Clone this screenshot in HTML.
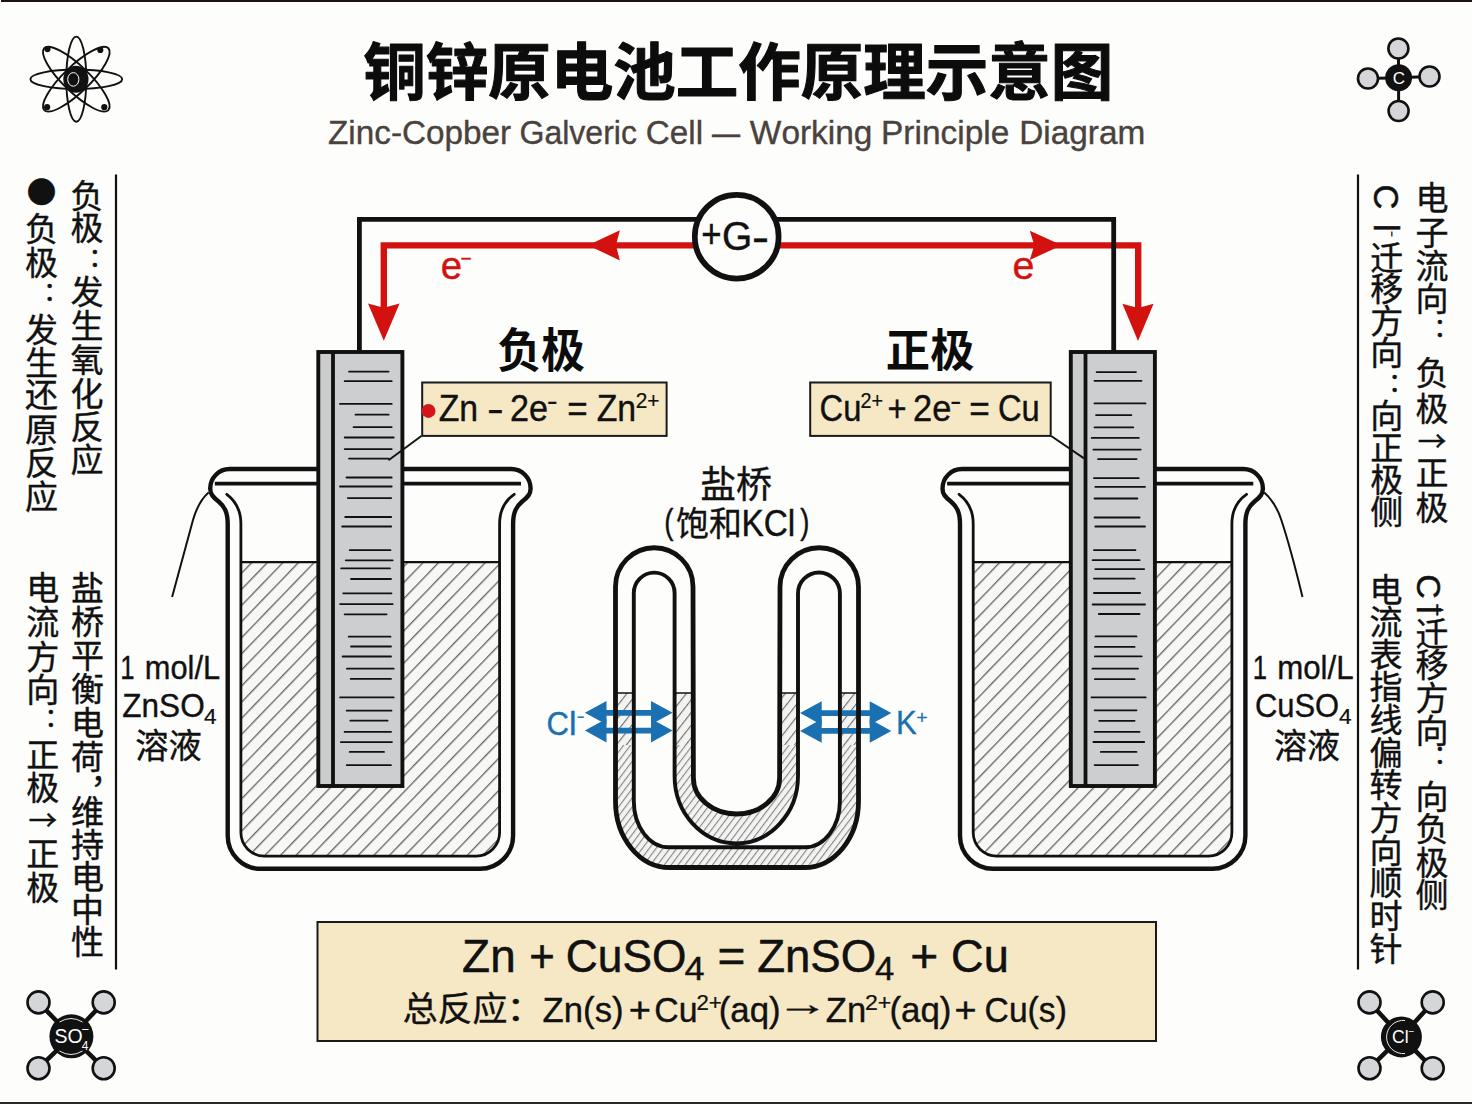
<!DOCTYPE html>
<html lang="zh-CN"><head><meta charset="utf-8"><title>铜锌原电池工作原理示意图</title>
<style>html,body{margin:0;padding:0;background:#fdfdfc;}body{width:1472px;height:1104px;overflow:hidden;}svg{display:block;}text{font-family:"Liberation Sans", "Noto Sans CJK SC", sans-serif;fill:#111;}.b{font-weight:700;}.v{font-size:33px;text-anchor:middle;stroke:#111;stroke-width:0.4px;}</style></head><body>
<svg width="1472" height="1104" viewBox="0 0 1472 1104">
<defs>
<pattern id="hatch" width="11.2" height="11.2" patternUnits="userSpaceOnUse" patternTransform="rotate(-46)"><rect width="11.2" height="11.2" fill="#f7f7f5"/><line x1="0" y1="0.7" x2="11.2" y2="0.7" stroke="#626260" stroke-width="1.3"/></pattern>
<pattern id="hatch2" width="7.8" height="7.8" patternUnits="userSpaceOnUse" patternTransform="rotate(-52)"><rect width="7.8" height="7.8" fill="#f3f3f2"/><line x1="0" y1="0.6" x2="7.8" y2="0.6" stroke="#666" stroke-width="1.05"/></pattern>
<pattern id="hatch3" width="5.5" height="5.5" patternUnits="userSpaceOnUse" patternTransform="rotate(-53)"><rect width="5.5" height="5.5" fill="#f3f3f2"/><line x1="0" y1="0.6" x2="5.5" y2="0.6" stroke="#747474" stroke-width="0.95"/></pattern>
</defs>
<rect x="0" y="0" width="1472" height="1104" fill="#fdfdfc"/>
<rect x="1" y="0" width="1471" height="2" fill="#1b1411"/>
<rect x="0" y="1102" width="1472" height="2" fill="#2a2624"/>
<text class="b" x="738.3" y="94.8" font-size="62.5" text-anchor="middle" style="fill:#0c0c0c;stroke:#0c0c0c;stroke-width:1.1px;stroke-linejoin:round">铜锌原电池工作原理示意图</text>
<text style="font-kerning:none;fill:#4a423d;stroke:#4a423d;"><tspan x="328.04" y="143.80" font-size="33.5" stroke-width="0.37" textLength="183.11" lengthAdjust="spacingAndGlyphs">Zinc-Copber</tspan> <tspan x="519.49" y="143.80" font-size="33.5" stroke-width="0.37" textLength="117.46" lengthAdjust="spacingAndGlyphs">Galveric</tspan> <tspan x="645.81" y="143.80" font-size="33.5" stroke-width="0.37" textLength="57.32" lengthAdjust="spacingAndGlyphs">Cell</tspan> <tspan x="711.90" y="143.80" font-size="33.5" stroke-width="0.37" textLength="28.10" lengthAdjust="spacingAndGlyphs">—</tspan> <tspan x="749.85" y="143.80" font-size="33.5" stroke-width="0.37" textLength="122.60" lengthAdjust="spacingAndGlyphs">Working</tspan> <tspan x="881.06" y="143.80" font-size="33.5" stroke-width="0.37" textLength="128.23" lengthAdjust="spacingAndGlyphs">Principle</tspan> <tspan x="1019.16" y="143.80" font-size="33.5" stroke-width="0.37" textLength="126.14" lengthAdjust="spacingAndGlyphs">Diagram</tspan></text>
<g fill="none" stroke="#111" stroke-width="1.9"><ellipse cx="76.3" cy="79.2" rx="45.9" ry="9.7" transform="rotate(0 76.3 79.2)"/><ellipse cx="76.3" cy="79.2" rx="42.6" ry="10" transform="rotate(90 76.3 79.2)"/><ellipse cx="76.3" cy="79.2" rx="44.6" ry="13" transform="rotate(44 76.3 79.2)"/><ellipse cx="76.3" cy="79.2" rx="44.6" ry="13" transform="rotate(-44 76.3 79.2)"/></g><ellipse cx="75.9" cy="79.2" rx="12.6" ry="13.5" fill="#111"/><ellipse cx="73.3" cy="79.4" rx="5.6" ry="6.8" fill="none" stroke="#fff" stroke-width="1"/><circle cx="47.5" cy="49.1" r="3.1" fill="#111"/><circle cx="100.3" cy="50" r="3.1" fill="#111"/><circle cx="47.1" cy="107.2" r="3.1" fill="#111"/><circle cx="104.3" cy="107.2" r="3.1" fill="#111"/>
<g stroke="#111" stroke-width="3"><line x1="1398.6" y1="77.8" x2="1398.4" y2="48.5"/><line x1="1398.6" y1="77.8" x2="1368" y2="78.5"/><line x1="1398.6" y1="77.8" x2="1429.5" y2="76.5"/><line x1="1398.6" y1="77.8" x2="1398.6" y2="111"/></g><circle cx="1398.4" cy="48.5" r="10" fill="#d4d6d7" stroke="#111" stroke-width="2.6"/><circle cx="1368" cy="78.5" r="10" fill="#d4d6d7" stroke="#111" stroke-width="2.6"/><circle cx="1429.5" cy="76.5" r="10" fill="#d4d6d7" stroke="#111" stroke-width="2.6"/><circle cx="1398.6" cy="111" r="10" fill="#d4d6d7" stroke="#111" stroke-width="2.6"/><circle cx="1398.6" cy="77.8" r="13.5" fill="#111"/><text x="1398.8" y="84" font-size="17" text-anchor="middle" style="fill:#fff">C</text>
<g stroke="#111" stroke-width="4.5"><line x1="71.4" y1="1036.3" x2="38.5" y2="1002.4"/><line x1="71.4" y1="1036.3" x2="103.7" y2="1002.4"/><line x1="71.4" y1="1036.3" x2="38.5" y2="1068.2"/><line x1="71.4" y1="1036.3" x2="103.7" y2="1068.2"/></g><circle cx="38.5" cy="1002.4" r="11" fill="#d4d6d7" stroke="#111" stroke-width="2.6"/><circle cx="103.7" cy="1002.4" r="11" fill="#d4d6d7" stroke="#111" stroke-width="2.6"/><circle cx="38.5" cy="1068.2" r="11" fill="#d4d6d7" stroke="#111" stroke-width="2.6"/><circle cx="103.7" cy="1068.2" r="11" fill="#d4d6d7" stroke="#111" stroke-width="2.6"/><circle cx="71.4" cy="1036.3" r="22" fill="#111"/><path d="M59.5 1022 Q71 1015 82.5 1022 M59.5 1051 Q71 1058 82.5 1051" fill="none" stroke="#fff" stroke-width="0.9"/><text x="54.5" y="1042.5" font-size="19.5" style="fill:#fff">SO<tspan font-size="12" dx="-1" dy="7">4</tspan><tspan font-size="13" dx="-7" dy="-16">−</tspan></text>
<g stroke="#111" stroke-width="4.5"><line x1="1401.4" y1="1036.9" x2="1369.5" y2="1002.4"/><line x1="1401.4" y1="1036.9" x2="1432.7" y2="1002.4"/><line x1="1401.4" y1="1036.9" x2="1369.5" y2="1068.2"/><line x1="1401.4" y1="1036.9" x2="1432.7" y2="1068.2"/></g><circle cx="1369.5" cy="1002.4" r="11" fill="#d4d6d7" stroke="#111" stroke-width="2.6"/><circle cx="1432.7" cy="1002.4" r="11" fill="#d4d6d7" stroke="#111" stroke-width="2.6"/><circle cx="1369.5" cy="1068.2" r="11" fill="#d4d6d7" stroke="#111" stroke-width="2.6"/><circle cx="1432.7" cy="1068.2" r="11" fill="#d4d6d7" stroke="#111" stroke-width="2.6"/><circle cx="1401.4" cy="1036.9" r="20.5" fill="#111"/><path d="M1405 1020.5 A16.6 16.6 0 1 0 1405 1053.5" fill="none" stroke="#fff" stroke-width="0.9"/><text x="1392" y="1043" font-size="17.5" style="fill:#fff">Cl<tspan font-size="10" dy="-8">−</tspan></text>
<g stroke="#111" stroke-width="2.2"><line x1="116" y1="174.5" x2="116" y2="969.5"/><line x1="1358" y1="174.5" x2="1358" y2="969.5"/></g>
<text class="v" font-size="33"><tspan x="87 87" y="207.84 240.04">负极</tspan><tspan x="101.62" y="266.97" font-size="26.5" style="font-family:&quot;Noto Sans CJK SC&quot;,sans-serif;">：</tspan><tspan x="87 87 87 87 87 87" y="304.04 338.04 372.04 405.54 438.94 471.94">发生氧化反应</tspan></text>
<text class="v" font-size="33"><tspan x="41.60" y="203.21" font-size="29.5" style="font-family:&quot;Noto Sans CJK SC&quot;,sans-serif;">●</tspan><tspan x="41.6 41.6" y="241.24 275.04">负极</tspan><tspan x="56.23" y="300.87" font-size="26.5" style="font-family:&quot;Noto Sans CJK SC&quot;,sans-serif;">：</tspan><tspan x="41.6 41.6 41.6 41.6 41.6 41.6" y="341.54 374.54 407.04 442.24 475.24 509.04">发生还原反应</tspan></text>
<text class="v" font-size="33"><tspan x="87.5 87.5 87.5 87.5 87.5 87.5" y="600.14 633.84 667.54 701.24 734.94 768.64">盐桥平衡电荷</tspan><tspan x="106.56" y="783.35" font-size="32" style="font-family:&quot;Noto Sans CJK SC&quot;,sans-serif;">，</tspan><tspan x="87.5 87.5 87.5 87.5 87.5" y="824.24 856.74 889.24 921.74 954.24">维持电中性</tspan></text>
<text class="v" font-size="33"><tspan x="42.8 42.8 42.8 42.8" y="600.14 634.34 669.04 701.84">电流方向</tspan><tspan x="57.42" y="727.17" font-size="26.5" style="font-family:&quot;Noto Sans CJK SC&quot;,sans-serif;">：</tspan><tspan x="42.8 42.8" y="767.04 799.84">正极</tspan><tspan x="42.80" y="831.23" font-size="28.5" style="font-family:&quot;Noto Sans CJK SC&quot;,sans-serif;">→</tspan><tspan x="42.8 42.8" y="865.54 899.84">正极</tspan></text>
<text class="v" font-size="33"><tspan x="1432 1432 1432 1432" y="209.54 244.54 278.34 311.34">电子流向</tspan><tspan x="1446.62" y="337.37" font-size="26.5" style="font-family:&quot;Noto Sans CJK SC&quot;,sans-serif;">：</tspan><tspan x="1432 1432" y="385.24 420.54">负极</tspan><tspan x="1432.00" y="451.53" font-size="28.5" style="font-family:&quot;Noto Sans CJK SC&quot;,sans-serif;">→</tspan><tspan x="1432 1432" y="484.84 520.04">正极</tspan></text>
<text font-size="34.5" transform="translate(1374 184.4) rotate(90)" style="font-kerning:none;stroke:#111;stroke-width:0.5px">C<tspan dx="14.8">l</tspan><tspan font-size="9" dy="-14.5" dx="-0.5">−</tspan></text>
<text class="v" font-size="33"><tspan x="1386.7 1386.7 1386.7 1386.7" y="269.54 301.29 333.04 364.79">迁移方向</tspan><tspan x="1401.33" y="392.37" font-size="26.5" style="font-family:&quot;Noto Sans CJK SC&quot;,sans-serif;">：</tspan><tspan x="1386.7 1386.7 1386.7 1386.7" y="428.29 460.04 491.79 523.54">向正极侧</tspan></text>
<text font-size="34" transform="translate(1416.5 574.2) rotate(90)" style="font-kerning:none;stroke:#111;stroke-width:0.5px">C<tspan dx="7.2">l</tspan><tspan font-size="22" dy="-13.5" dx="-10.1">+</tspan></text>
<text class="v" font-size="33"><tspan x="1432 1432 1432 1432" y="645.54 676.94 709.54 742.54">迁移方向</tspan><tspan x="1446.62" y="763.77" font-size="26.5" style="font-family:&quot;Noto Sans CJK SC&quot;,sans-serif;">：</tspan><tspan x="1432 1432 1432 1432" y="808.54 841.04 874.54 906.54">向负极侧</tspan></text>
<text class="v" font-size="33"><tspan x="1386 1386 1386 1386 1386 1386 1386 1386 1386 1386 1386 1386" y="601.54 634.18 666.82 699.46 732.10 764.74 797.38 830.02 862.66 895.30 927.94 960.58">电流表指线偏转方向顺时针</tspan></text>
<g transform="translate(0 0)"><path d="M240.9 562.2 L499.6 562.2 L499.6 832.6 A23.5 23.5 0 0 1 476.1 856.1 L264.4 856.1 A23.5 23.5 0 0 1 240.9 832.6 Z" fill="url(#hatch)"/><line x1="240.9" y1="562.2" x2="499.6" y2="562.2" stroke="#111" stroke-width="2.2"/><path d="M226.8 494.3 C233 499 240.9 508 240.9 524 L240.9 832.6 A23.5 23.5 0 0 0 264.4 856.1 L476.1 856.1 A23.5 23.5 0 0 0 499.6 832.6 L499.6 524 C499.6 508 507.5 499 514.2 494.3" fill="none" stroke="#111" stroke-width="2.8" stroke-linecap="round"/><path d="M513.1 835.8 L513.1 524.0 C513.1 512.0 516.4 506.5 522.2 501.5 C527.9 497.0 530.6 494.0 530.6 488.5 A19.5 19.5 0 0 0 511.1 469.0 L229.7 469.0 A19.5 19.5 0 0 0 210.2 488.5 C210.2 494.0 212.9 497.0 218.6 501.5 C224.4 506.5 227.7 512.0 227.7 524.0 L227.7 835.8 A33 33 0 0 0 260.7 868.8 L480.1 868.8 A33 33 0 0 0 513.1 835.8 Z" fill="none" stroke="#111" stroke-width="4.4" stroke-linejoin="round"/><line x1="214.8" y1="483.7" x2="521" y2="483.7" stroke="#111" stroke-width="3.8"/></g>
<g transform="translate(732.3 0)"><path d="M240.9 562.2 L499.6 562.2 L499.6 832.6 A23.5 23.5 0 0 1 476.1 856.1 L264.4 856.1 A23.5 23.5 0 0 1 240.9 832.6 Z" fill="url(#hatch)"/><line x1="240.9" y1="562.2" x2="499.6" y2="562.2" stroke="#111" stroke-width="2.2"/><path d="M226.8 494.3 C233 499 240.9 508 240.9 524 L240.9 832.6 A23.5 23.5 0 0 0 264.4 856.1 L476.1 856.1 A23.5 23.5 0 0 0 499.6 832.6 L499.6 524 C499.6 508 507.5 499 514.2 494.3" fill="none" stroke="#111" stroke-width="2.8" stroke-linecap="round"/><path d="M513.1 835.8 L513.1 524.0 C513.1 512.0 516.4 506.5 522.2 501.5 C527.9 497.0 530.6 494.0 530.6 488.5 A19.5 19.5 0 0 0 511.1 469.0 L229.7 469.0 A19.5 19.5 0 0 0 210.2 488.5 C210.2 494.0 212.9 497.0 218.6 501.5 C224.4 506.5 227.7 512.0 227.7 524.0 L227.7 835.8 A33 33 0 0 0 260.7 868.8 L480.1 868.8 A33 33 0 0 0 513.1 835.8 Z" fill="none" stroke="#111" stroke-width="4.4" stroke-linejoin="round"/><line x1="214.8" y1="483.7" x2="521" y2="483.7" stroke="#111" stroke-width="3.8"/></g>
<path d="M208.6 492.4 C201.5 498.5 196.5 508 193 520 C189 535 181 565 172.1 597" fill="none" stroke="#111" stroke-width="2"/>
<path d="M1264.2 492.6 C1271.5 499 1277 507 1281 519 C1286 534 1294 562 1302.5 597" fill="none" stroke="#111" stroke-width="2"/>
<path d="M383.8 312 L383.8 245.4 L1138.2 245.4 L1138.2 312" fill="none" stroke="#d3120f" stroke-width="6.4" stroke-linejoin="miter"/>
<path d="M383.8 340.7 L368.0 303.5 L383.8 307.7 L399.6 303.5 Z" fill="#d3120f"/>
<path d="M1138.0 341.0 L1122.4 303.8 L1138.0 308.0 L1153.6 303.8 Z" fill="#d3120f"/>
<path d="M587.9 245.3 L619.9 230.2 L615.9 245.3 L619.9 260.4 Z" fill="#d3120f"/>
<path d="M1061.8 245.3 L1029.8 259.9 L1034.3 245.3 L1029.8 230.7 Z" fill="#d3120f"/>
<path d="M359.4 352 L359.4 219.3 L1113.7 219.3 L1113.7 352" fill="none" stroke="#111" stroke-width="4.8" stroke-linejoin="miter"/>
<circle cx="736.7" cy="236.7" r="41.9" fill="#fdfdfc" stroke="#111" stroke-width="5.7"/>
<text style="font-kerning:none;fill:#111;stroke:#111;"><tspan x="701.30" y="248.20" font-size="40" stroke-width="0.44" textLength="20.31" lengthAdjust="spacingAndGlyphs">+</tspan> <tspan x="721.94" y="250.40" font-size="40" stroke-width="0.44" textLength="30.26" lengthAdjust="spacingAndGlyphs">G</tspan> <tspan x="752.02" y="251.40" font-size="40" stroke-width="0.44" textLength="17.05" lengthAdjust="spacingAndGlyphs">-</tspan></text>
<text transform="translate(440.77 278.60) scale(0.9836 1)" font-size="39" style="font-kerning:none;fill:#d3120f;stroke:#d3120f;stroke-width:0.43px;">e</text><text transform="translate(460.45 266.12) scale(0.8795 1)" font-size="22" style="font-kerning:none;fill:#d3120f;stroke:#d3120f;stroke-width:0.24px;">−</text>
<text transform="translate(1012.43 279.20) scale(1.0109 1)" font-size="39" style="font-kerning:none;fill:#d3120f;stroke:#d3120f;stroke-width:0.43px;">e</text>
<g><rect x="318.3" y="352" width="84.1" height="434" fill="#cccecf"/><rect x="318.3" y="352" width="14.7" height="434" fill="#cbcccc"/><line x1="333" y1="352" x2="333" y2="786" stroke="#111" stroke-width="3.8"/><rect x="318.3" y="352" width="84.1" height="434" fill="none" stroke="#111" stroke-width="3.9"/><g stroke="#111" stroke-width="1.8" stroke-linecap="round"><line x1="349" y1="371.6" x2="388.6" y2="371.6"/><line x1="344.7" y1="381.2" x2="391.7" y2="381.2"/><line x1="340" y1="403.9" x2="391.7" y2="403.9"/><line x1="355.5" y1="414.7" x2="388.6" y2="414.7"/><line x1="353.5" y1="427.1" x2="391.7" y2="427.1"/><line x1="344.7" y1="437.5" x2="393.7" y2="437.5"/><line x1="344.7" y1="449.1" x2="391.7" y2="449.1"/><line x1="349" y1="458.6" x2="388.6" y2="458.6"/><line x1="346.5" y1="477.5" x2="391.7" y2="477.5"/><line x1="340" y1="486.5" x2="391.7" y2="486.5"/><line x1="347.8" y1="498.1" x2="391.2" y2="498.1"/><line x1="345.2" y1="517" x2="391.2" y2="517"/><line x1="342.1" y1="526.5" x2="391.2" y2="526.5"/><line x1="349.7" y1="550.1" x2="390.5" y2="550.1"/><line x1="345.8" y1="560.3" x2="392.7" y2="560.3"/><line x1="341.2" y1="568.4" x2="390" y2="568.4"/><line x1="351" y1="579" x2="391" y2="579"/><line x1="343.2" y1="593.3" x2="391.5" y2="593.3"/><line x1="340.1" y1="604.1" x2="392.7" y2="604.1"/><line x1="344.6" y1="614.3" x2="386.6" y2="614.3"/><line x1="348.7" y1="636.7" x2="390.5" y2="636.7"/><line x1="351" y1="646.5" x2="391" y2="646.5"/><line x1="342.6" y1="656.5" x2="391" y2="656.5"/><line x1="346.9" y1="668.7" x2="393.7" y2="668.7"/><line x1="350.7" y1="678.9" x2="391" y2="678.9"/><line x1="340.1" y1="697.4" x2="393.7" y2="697.4"/><line x1="346.7" y1="710.7" x2="391.5" y2="710.7"/><line x1="350.3" y1="720.7" x2="387.6" y2="720.7"/><line x1="344.6" y1="731.9" x2="391" y2="731.9"/><line x1="340.8" y1="742.1" x2="392" y2="742.1"/><line x1="349.7" y1="751.9" x2="384" y2="751.9"/><line x1="346.7" y1="765.1" x2="391" y2="765.1"/></g></g>
<g><rect x="1070.8" y="352" width="84.1" height="434" fill="#cccecf"/><rect x="1070.8" y="352" width="14.7" height="434" fill="#cbcccc"/><line x1="1085.5" y1="352" x2="1085.5" y2="786" stroke="#111" stroke-width="3.8"/><rect x="1070.8" y="352" width="84.1" height="434" fill="none" stroke="#111" stroke-width="3.9"/><g stroke="#111" stroke-width="1.8" stroke-linecap="round"><line x1="1096.6" y1="372.1" x2="1136" y2="372.1"/><line x1="1094.5" y1="380.8" x2="1141.5" y2="380.8"/><line x1="1094.5" y1="403.4" x2="1145.5" y2="403.4"/><line x1="1096" y1="415.1" x2="1131.4" y2="415.1"/><line x1="1094.5" y1="427.3" x2="1133.3" y2="427.3"/><line x1="1091.7" y1="437.9" x2="1138.8" y2="437.9"/><line x1="1093.4" y1="449.6" x2="1140.7" y2="449.6"/><line x1="1098" y1="459.1" x2="1136.6" y2="459.1"/><line x1="1093.9" y1="478.1" x2="1138.8" y2="478.1"/><line x1="1095.3" y1="486.8" x2="1145" y2="486.8"/><line x1="1094.5" y1="498.5" x2="1137.4" y2="498.5"/><line x1="1094.5" y1="517.5" x2="1139.6" y2="517.5"/><line x1="1095.3" y1="526.5" x2="1145" y2="526.5"/><line x1="1093.9" y1="550.1" x2="1135.5" y2="550.1"/><line x1="1092.6" y1="560.2" x2="1139.6" y2="560.2"/><line x1="1095.3" y1="569.1" x2="1144.2" y2="569.1"/><line x1="1093.9" y1="578.6" x2="1134.7" y2="578.6"/><line x1="1093.9" y1="593" x2="1140.1" y2="593"/><line x1="1092.6" y1="604.5" x2="1145" y2="604.5"/><line x1="1098.8" y1="614" x2="1139.6" y2="614"/><line x1="1095.5" y1="636.4" x2="1136.5" y2="636.4"/><line x1="1094.9" y1="646.9" x2="1134.6" y2="646.9"/><line x1="1094.9" y1="656.4" x2="1141.7" y2="656.4"/><line x1="1092.4" y1="668.7" x2="1138" y2="668.7"/><line x1="1094.9" y1="679.2" x2="1134.6" y2="679.2"/><line x1="1091.5" y1="697.4" x2="1145.7" y2="697.4"/><line x1="1094.6" y1="710.3" x2="1136.5" y2="710.3"/><line x1="1099.2" y1="720.8" x2="1134.6" y2="720.8"/><line x1="1094.6" y1="731.8" x2="1139.6" y2="731.8"/><line x1="1093.4" y1="742" x2="1144.2" y2="742"/><line x1="1100.8" y1="751.9" x2="1136.5" y2="751.9"/><line x1="1094.6" y1="765.1" x2="1138" y2="765.1"/></g></g>
<clipPath id="liqA"><rect x="600" y="693" width="280" height="200"/></clipPath><clipPath id="liqB"><rect x="600" y="745" width="280" height="140"/></clipPath>
<path d="M615.5 586.5 A38.75 38.75 0 0 1 693 586.5 L693.4 778 A43.1 36 0 0 0 779.6 778 L780 587 A39.25 39.25 0 0 1 858.5 587 L858.5 801.5 A54 66 0 0 1 804.5 867.5 L669.5 867.5 A54 66 0 0 1 615.5 801.5 Z M633.8 593 A20.4 20.4 0 0 1 674.6 593 L674.6 776 A61.7 67.4 0 0 0 798 776 L798 593.5 A20.95 20.95 0 0 1 839.9 593.5 L839.9 801.3 A35 46 0 0 1 804.9 847.3 L668.8 847.3 A35 46 0 0 1 633.8 801.3 Z" fill="url(#hatch2)" fill-rule="evenodd" clip-path="url(#liqA)"/>
<path d="M615.5 586.5 A38.75 38.75 0 0 1 693 586.5 L693.4 778 A43.1 36 0 0 0 779.6 778 L780 587 A39.25 39.25 0 0 1 858.5 587 L858.5 801.5 A54 66 0 0 1 804.5 867.5 L669.5 867.5 A54 66 0 0 1 615.5 801.5 Z M633.8 593 A20.4 20.4 0 0 1 674.6 593 L674.6 776 A61.7 67.4 0 0 0 798 776 L798 593.5 A20.95 20.95 0 0 1 839.9 593.5 L839.9 801.3 A35 46 0 0 1 804.9 847.3 L668.8 847.3 A35 46 0 0 1 633.8 801.3 Z" fill="url(#hatch3)" fill-rule="evenodd" clip-path="url(#liqB)"/>
<path d="M584.9 712.8 L606.5 701 L606.5 709.9 L651 709.9 L651 701 L672.6 712.8 L651 724.6 L651 715.7 L606.5 715.7 L606.5 724.6 Z" fill="#1b70b2"/>
<path d="M584.9 730.6 L606.5 718.8 L606.5 727.7 L651 727.7 L651 718.8 L672.6 730.6 L651 742.4 L651 733.5 L606.5 733.5 L606.5 742.4 Z" fill="#1b70b2"/>
<path d="M800.1 713.1 L821.7 701.3 L821.7 710.2 L869.7 710.2 L869.7 701.3 L891.3 713.1 L869.7 724.9 L869.7 716 L821.7 716 L821.7 724.9 Z" fill="#1b70b2"/>
<path d="M800.1 730.9 L821.7 719.1 L821.7 728 L869.7 728 L869.7 719.1 L891.3 730.9 L869.7 742.7 L869.7 733.8 L821.7 733.8 L821.7 742.7 Z" fill="#1b70b2"/>
<g stroke="#111" stroke-width="1.5"><line x1="615.5" y1="693" x2="633.8" y2="693"/><line x1="674.6" y1="693" x2="693.2" y2="693"/><line x1="779.8" y1="693" x2="798" y2="693"/><line x1="839.9" y1="693" x2="858.5" y2="693"/></g>
<path d="M615.5 586.5 A38.75 38.75 0 0 1 693 586.5 L693.4 778 A43.1 36 0 0 0 779.6 778 L780 587 A39.25 39.25 0 0 1 858.5 587 L858.5 801.5 A54 66 0 0 1 804.5 867.5 L669.5 867.5 A54 66 0 0 1 615.5 801.5 Z" fill="none" stroke="#111" stroke-width="4.8" stroke-linejoin="round"/>
<path d="M633.8 593 A20.4 20.4 0 0 1 674.6 593 L674.6 776 A61.7 67.4 0 0 0 798 776 L798 593.5 A20.95 20.95 0 0 1 839.9 593.5 L839.9 801.3 A35 46 0 0 1 804.9 847.3 L668.8 847.3 A35 46 0 0 1 633.8 801.3 Z" fill="none" stroke="#111" stroke-width="3.9" stroke-linejoin="round"/>
<text transform="translate(546.62 734.60) scale(0.9149 1)" font-size="34" style="font-kerning:none;fill:#1b70b2;stroke:#1b70b2;stroke-width:0.37px;">C</text><text transform="translate(569.00 734.60) scale(1.0039 1)" font-size="34" style="font-kerning:none;fill:#1b70b2;stroke:#1b70b2;stroke-width:0.37px;">l</text><text transform="translate(577.08 723.49) scale(0.6975 1)" font-size="18" style="font-kerning:none;fill:#1b70b2;stroke:#1b70b2;stroke-width:0.20px;">−</text>
<text transform="translate(895.94 733.80) scale(0.9629 1)" font-size="32.4" style="font-kerning:none;fill:#1b70b2;stroke:#1b70b2;stroke-width:0.36px;">K</text><text transform="translate(916.25 723.52) scale(1.0291 1)" font-size="19" style="font-kerning:none;fill:#1b70b2;stroke:#1b70b2;stroke-width:0.21px;">+</text>
<text transform="translate(700.13 497.75) scale(0.9702 1)" font-size="37.08" style="font-kerning:none;stroke:#111;stroke-width:0.41px;font-family:&quot;Noto Sans CJK SC&quot;,sans-serif;">盐桥</text>
<text transform="translate(664.19 534.47) scale(0.7773 1)" font-size="35.42" style="font-kerning:none;stroke:#111;stroke-width:0.39px;">(</text><text transform="translate(675.91 536.14) scale(0.9687 1)" font-size="34.06" style="font-kerning:none;stroke:#111;stroke-width:0.37px;font-family:&quot;Noto Sans CJK SC&quot;,sans-serif;">饱和</text><text transform="translate(741.46 535.70) scale(0.9168 1)" font-size="36.4" style="font-kerning:none;stroke:#111;stroke-width:0.40px;">KCl</text><text transform="translate(800.24 534.47) scale(0.7773 1)" font-size="35.42" style="font-kerning:none;stroke:#111;stroke-width:0.39px;">)</text>
<text class="b" transform="translate(497.60 367.36) scale(0.9393 1)" font-size="46.55" style="font-kerning:none;fill:#0c0c0c;font-family:&quot;Noto Sans CJK SC&quot;,sans-serif;">负极</text>
<text class="b" transform="translate(885.85 367.47) scale(0.9663 1)" font-size="45.85" style="font-kerning:none;fill:#0c0c0c;font-family:&quot;Noto Sans CJK SC&quot;,sans-serif;">正极</text>
<line x1="421.4" y1="436" x2="388.5" y2="460.2" stroke="#111" stroke-width="1.9"/>
<line x1="1051.2" y1="436" x2="1084" y2="458.4" stroke="#111" stroke-width="1.9"/>
<rect x="422.2" y="382.5" width="244.4" height="53.4" fill="#f6e8c4" stroke="#1a1a1a" stroke-width="2"/>
<rect x="810.2" y="382.5" width="240.5" height="53.4" fill="#f6e8c4" stroke="#1a1a1a" stroke-width="2"/>
<circle cx="428.5" cy="410.9" r="7" fill="#d4161a"/>
<text style="font-kerning:none;fill:#111;stroke:#111;"><tspan x="438.63" y="421.30" font-size="36.5" stroke-width="0.40" textLength="39.47" lengthAdjust="spacingAndGlyphs">Zn</tspan> <tspan x="486.96" y="421.00" font-size="36.5" stroke-width="0.40" textLength="16.78" lengthAdjust="spacingAndGlyphs">-</tspan> <tspan x="510.08" y="421.30" font-size="36.5" stroke-width="0.40" textLength="38.04" lengthAdjust="spacingAndGlyphs">2e</tspan> <tspan x="567.29" y="421.30" font-size="36.5" stroke-width="0.40" textLength="20.43" lengthAdjust="spacingAndGlyphs">=</tspan> <tspan x="596.73" y="421.30" font-size="36.5" stroke-width="0.40" textLength="39.47" lengthAdjust="spacingAndGlyphs">Zn</tspan> <tspan x="635.65" y="407.70" font-size="21.5" stroke-width="0.24" textLength="23.78" lengthAdjust="spacingAndGlyphs">2+</tspan></text><text transform="translate(547.60 411.71) scale(0.5807 1)" font-size="28" style="font-kerning:none;stroke:#111;stroke-width:0.31px;">−</text>
<text style="font-kerning:none;fill:#111;stroke:#111;"><tspan x="819.54" y="421.30" font-size="36.5" stroke-width="0.40" textLength="41.84" lengthAdjust="spacingAndGlyphs">Cu</tspan> <tspan x="860.50" y="407.70" font-size="21.5" stroke-width="0.24" textLength="22.57" lengthAdjust="spacingAndGlyphs">2+</tspan> <tspan x="887.60" y="421.30" font-size="36.5" stroke-width="0.40" textLength="19.11" lengthAdjust="spacingAndGlyphs">+</tspan> <tspan x="913.07" y="421.30" font-size="36.5" stroke-width="0.40" textLength="38.26" lengthAdjust="spacingAndGlyphs">2e</tspan> <tspan x="969.28" y="421.30" font-size="36.5" stroke-width="0.40" textLength="20.55" lengthAdjust="spacingAndGlyphs">=</tspan> <tspan x="997.94" y="421.30" font-size="36.5" stroke-width="0.40" textLength="41.84" lengthAdjust="spacingAndGlyphs">Cu</tspan></text><text transform="translate(950.66 411.71) scale(0.6101 1)" font-size="28" style="font-kerning:none;stroke:#111;stroke-width:0.31px;">−</text>
<text style="font-kerning:none;fill:#111;stroke:#111;"><tspan x="120.24" y="679.30" font-size="33" stroke-width="0.36" textLength="14.32" lengthAdjust="spacingAndGlyphs">1</tspan> <tspan x="144.75" y="679.30" font-size="33" stroke-width="0.36" textLength="75.37" lengthAdjust="spacingAndGlyphs">mol/L</tspan></text>
<text style="font-kerning:none;fill:#111;stroke:#111;"><tspan x="122.30" y="717.40" font-size="33" stroke-width="0.36" textLength="82.41" lengthAdjust="spacingAndGlyphs">ZnSO</tspan> <tspan x="203.98" y="724.30" font-size="22" stroke-width="0.24" textLength="12.58" lengthAdjust="spacingAndGlyphs">4</tspan></text>
<text transform="translate(135.34 758.36) scale(0.9718 1)" font-size="34.23" style="font-kerning:none;stroke:#111;stroke-width:0.38px;font-family:&quot;Noto Sans CJK SC&quot;,sans-serif;">溶液</text>
<text style="font-kerning:none;fill:#111;stroke:#111;"><tspan x="1252.84" y="679.30" font-size="33" stroke-width="0.36" textLength="14.32" lengthAdjust="spacingAndGlyphs">1</tspan> <tspan x="1277.22" y="679.30" font-size="33" stroke-width="0.36" textLength="76.41" lengthAdjust="spacingAndGlyphs">mol/L</tspan></text>
<text style="font-kerning:none;fill:#111;stroke:#111;"><tspan x="1254.93" y="717.40" font-size="33" stroke-width="0.36" textLength="84.25" lengthAdjust="spacingAndGlyphs">CuSO</tspan> <tspan x="1339.08" y="724.30" font-size="22" stroke-width="0.24" textLength="12.58" lengthAdjust="spacingAndGlyphs">4</tspan></text>
<text transform="translate(1274.05 758.36) scale(0.9642 1)" font-size="34.23" style="font-kerning:none;stroke:#111;stroke-width:0.38px;font-family:&quot;Noto Sans CJK SC&quot;,sans-serif;">溶液</text>
<rect x="317.5" y="922" width="838.5" height="119" fill="#f6e8c4" stroke="#1a1a1a" stroke-width="2"/>
<text style="font-kerning:none;fill:#111;stroke:#111;"><tspan x="462.14" y="972.20" font-size="45.5" stroke-width="0.50" textLength="53.54" lengthAdjust="spacingAndGlyphs">Zn</tspan> <tspan x="529.16" y="972.20" font-size="45.5" stroke-width="0.50" textLength="25.60" lengthAdjust="spacingAndGlyphs">+</tspan> <tspan x="565.85" y="972.20" font-size="45.5" stroke-width="0.50" textLength="120.57" lengthAdjust="spacingAndGlyphs">CuSO</tspan> <tspan x="684.57" y="979.50" font-size="33.5" stroke-width="0.37" textLength="20.09" lengthAdjust="spacingAndGlyphs">4</tspan> <tspan x="717.57" y="972.20" font-size="45.5" stroke-width="0.50" textLength="27.89" lengthAdjust="spacingAndGlyphs">=</tspan> <tspan x="757.15" y="972.20" font-size="45.5" stroke-width="0.50" textLength="119.03" lengthAdjust="spacingAndGlyphs">ZnSO</tspan> <tspan x="875.10" y="979.50" font-size="33.5" stroke-width="0.37" textLength="19.31" lengthAdjust="spacingAndGlyphs">4</tspan> <tspan x="910.36" y="972.20" font-size="45.5" stroke-width="0.50" textLength="28.01" lengthAdjust="spacingAndGlyphs">+</tspan> <tspan x="951.11" y="972.20" font-size="45.5" stroke-width="0.50" textLength="57.58" lengthAdjust="spacingAndGlyphs">Cu</tspan></text>
<text transform="translate(402.70 1021.00) scale(1.0272 1)" font-size="34" style="font-kerning:none;stroke:#111;stroke-width:0.37px;font-family:&quot;Noto Sans CJK SC&quot;,sans-serif;">总反应</text>
<text transform="translate(506.16 1021.00) scale(1.1223 1)" font-size="34" style="font-kerning:none;stroke:#111;stroke-width:0.37px;font-family:&quot;Noto Sans CJK SC&quot;,sans-serif;">：</text>
<text style="font-kerning:none;fill:#111;stroke:#111;"><tspan x="542.60" y="1022.10" font-size="35" stroke-width="0.38" textLength="80.95" lengthAdjust="spacingAndGlyphs">Zn(s)</tspan> <tspan x="628.74" y="1022.10" font-size="35" stroke-width="0.38" textLength="22.24" lengthAdjust="spacingAndGlyphs">+</tspan> <tspan x="654.28" y="1022.10" font-size="35" stroke-width="0.38" textLength="43.27" lengthAdjust="spacingAndGlyphs">Cu</tspan> <tspan x="696.48" y="1009.50" font-size="21.5" stroke-width="0.24" textLength="25.31" lengthAdjust="spacingAndGlyphs">2+</tspan> <tspan x="718.74" y="1022.10" font-size="35" stroke-width="0.38" textLength="61.81" lengthAdjust="spacingAndGlyphs">(aq)</tspan> <tspan x="776.01" y="1015.10" font-size="33" stroke-width="0.36" textLength="52.38" lengthAdjust="spacingAndGlyphs">→</tspan> <tspan x="825.80" y="1022.10" font-size="35" stroke-width="0.38" textLength="40.34" lengthAdjust="spacingAndGlyphs">Zn</tspan> <tspan x="865.04" y="1009.50" font-size="21.5" stroke-width="0.24" textLength="26.30" lengthAdjust="spacingAndGlyphs">2+</tspan> <tspan x="889.44" y="1022.10" font-size="35" stroke-width="0.38" textLength="62.03" lengthAdjust="spacingAndGlyphs">(aq)</tspan> <tspan x="954.45" y="1022.10" font-size="35" stroke-width="0.38" textLength="22.12" lengthAdjust="spacingAndGlyphs">+</tspan> <tspan x="984.59" y="1022.10" font-size="35" stroke-width="0.38" textLength="82.30" lengthAdjust="spacingAndGlyphs">Cu(s)</tspan></text>
</svg></body></html>
